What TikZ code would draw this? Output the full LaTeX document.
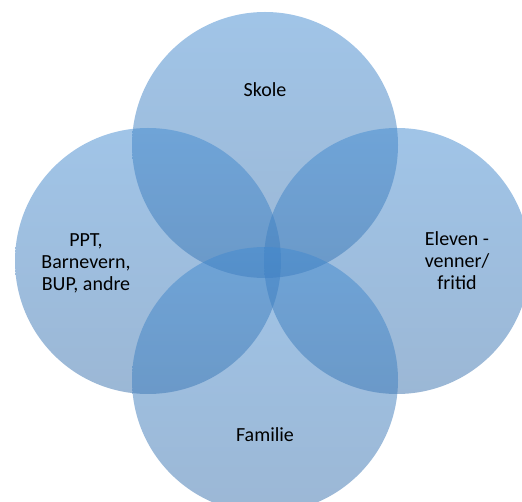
\documentclass[tikz,border=0pt]{standalone}
\usepackage{fontspec}
\setmainfont{Carlito}
\definecolor{ctop}{RGB}{66,138,208}
\definecolor{cbot}{RGB}{56,112,172}
\tikzset{
  bubble/.style={circle, minimum size=266pt, inner sep=0pt, shading=axis, top color=ctop, bottom color=cbot, fill opacity=0.5, draw=none},
  lbl/.style={align=center, font=\fontsize{20}{22}\selectfont, text=black, inner sep=0pt}
}
\begin{document}
\begin{tikzpicture}[x=1pt,y=-1pt]
\useasboundingbox (0,0) rectangle (522,502);
\node[bubble] (skole) at (265,145) {};
\node[bubble] (andre) at (148,261) {};
\node[bubble] (eleven) at (397,261) {};
\node[bubble] (familie) at (265,380) {};
\node[lbl] (tskole) at (265,90) {Skole};
\node[lbl] (tandre) at (86,263) {PPT,\\Barnevern,\\BUP, andre};
\node[lbl] (televen) at (457,261) {Eleven -\\venner/\\fritid};
\node[lbl] (tfamilie) at (265,435) {Familie};
\end{tikzpicture}
\end{document}
